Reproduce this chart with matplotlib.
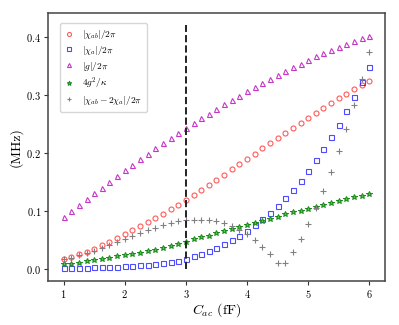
import numpy as np
import matplotlib
matplotlib.use('Agg')
import matplotlib.pyplot as plt

plt.rcParams['font.family'] = 'serif'
plt.rcParams['font.serif'] = ['cmr10', 'DejaVu Serif']
plt.rcParams['mathtext.fontset'] = 'cm'
plt.rcParams['axes.unicode_minus'] = False
plt.rcParams['axes.formatter.use_mathtext'] = True

# coupling capacitance (fF)
C_ac = np.linspace(1, 6, 41)

chi_ab = [0.0173, 0.0208, 0.0249, 0.0295, 0.0347, 0.0405, 0.0468, 0.0526, 0.0590,
          0.0659, 0.0728, 0.0803, 0.0873, 0.0948, 0.1023, 0.1104, 0.1185,
          0.1275, 0.1358, 0.1451, 0.1538, 0.1624, 0.1717, 0.1809, 0.1896, 0.1983,
          0.2083, 0.2170, 0.2260, 0.2347, 0.2434, 0.2520, 0.2607, 0.2694, 0.2775,
          0.2861, 0.2942, 0.3023, 0.3098, 0.3173, 0.3249]
chi_a = [0.0005, 0.0008, 0.0010, 0.0015, 0.0020, 0.0023, 0.0029, 0.0035, 0.0040,
         0.0046, 0.0058, 0.0069, 0.0081, 0.0098, 0.0116, 0.0139, 0.0172,
         0.0214, 0.0260, 0.0312, 0.0358, 0.0422, 0.0491, 0.0561, 0.0653, 0.0746,
         0.0850, 0.0960, 0.1087, 0.1220, 0.1364, 0.1520, 0.1688, 0.1873, 0.2072,
         0.2272, 0.2486, 0.2723, 0.2965, 0.3231, 0.3491]
g = [0.0884, 0.0994, 0.1098, 0.1197, 0.1301, 0.1399, 0.1503, 0.1601, 0.1699,
     0.1792, 0.1890, 0.1983, 0.2085, 0.2168, 0.2254, 0.2341, 0.2428,
     0.2514, 0.2595, 0.2676, 0.2763, 0.2838, 0.2919, 0.2988, 0.3069, 0.3139,
     0.3214, 0.3283, 0.3353, 0.3416, 0.3480, 0.3543, 0.3601, 0.3665, 0.3717,
     0.3775, 0.3827, 0.3873, 0.3925, 0.3977, 0.4023]
g2_kappa = [0.0075, 0.0087, 0.0104, 0.0127, 0.0145, 0.0168, 0.0191, 0.0214, 0.0231,
            0.0254, 0.0277, 0.0306, 0.0330, 0.0364, 0.0393, 0.0428, 0.0468,
            0.0509, 0.0538, 0.0572, 0.0607, 0.0647, 0.0682, 0.0711, 0.0751, 0.0786,
            0.0821, 0.0855, 0.0896, 0.0936, 0.0971, 0.1000, 0.1035, 0.1069, 0.1104,
            0.1139, 0.1173, 0.1202, 0.1231, 0.1260, 0.1295]
diff = [0.0163, 0.0192, 0.0229, 0.0265, 0.0307, 0.0359, 0.0410, 0.0456, 0.0510,
        0.0567, 0.0612, 0.0665, 0.0708, 0.0752, 0.0791, 0.0826, 0.0840,
        0.0838, 0.0838, 0.0832, 0.0818, 0.0785, 0.0735, 0.0676, 0.0600, 0.0500,
        0.0380, 0.0249, 0.0090, 0.0090, 0.0295, 0.0517, 0.0769, 0.1050, 0.1347,
        0.1676, 0.2037, 0.2420, 0.2830, 0.3277, 0.3737]

fig = plt.figure(figsize=(3.99, 3.25), dpi=100)
ax = fig.add_axes([0.121, 0.136, 0.843, 0.823])

ms = 3.6
ax.plot(C_ac, chi_ab, 'o', color='#ff3030', mfc='none', ms=ms, mew=0.8, alpha=0.8,
        label=r'$|\chi_{ab}|/2\pi$')
ax.plot(C_ac, chi_a, 's', color='#2020ff', mfc='none', ms=ms, mew=0.8, alpha=0.8,
        label=r'$|\chi_{a}|/2\pi$')
ax.plot(C_ac, g, '^', color='#c020c0', mfc='none', ms=ms, mew=0.8, alpha=0.9,
        label=r'$|g|/2\pi$')
ax.plot(C_ac, g2_kappa, '*', color='#1a8a1a', mfc='#5cc05c', ms=ms + 0.8, mew=0.7,
        label=r'$4g^2/\kappa$')
ax.plot(C_ac, diff, '+', color='gray', ms=ms + 0.8, mew=0.8,
        label=r'$|\chi_{ab}-2\chi_{a}|/2\pi$')
ax.plot([3, 3], [0, 0.42], '--', color='#222222', lw=1.4)

ax.set_xlabel(r'$C_{ac}$ (fF)', fontsize=10, labelpad=1)
ax.set_ylabel('(MHz)', fontsize=10, labelpad=3)
ax.set_xticks([1, 2, 3, 4, 5, 6])
ax.set_yticks([0.0, 0.1, 0.2, 0.3, 0.4])
ax.tick_params(labelsize=7.5, length=3, width=0.8, color='#333333', pad=2)
for s in ax.spines.values():
    s.set_color('#444444')
    s.set_linewidth(1.1)

ax.legend(loc='upper left', bbox_to_anchor=(0.036, 0.965), borderaxespad=0,
          fontsize=6.8, handletextpad=0.9, borderpad=0.55, labelspacing=0.3,
          handlelength=0.8, markerscale=0.8, framealpha=0.8)

fig.savefig('out.png', dpi=100)
